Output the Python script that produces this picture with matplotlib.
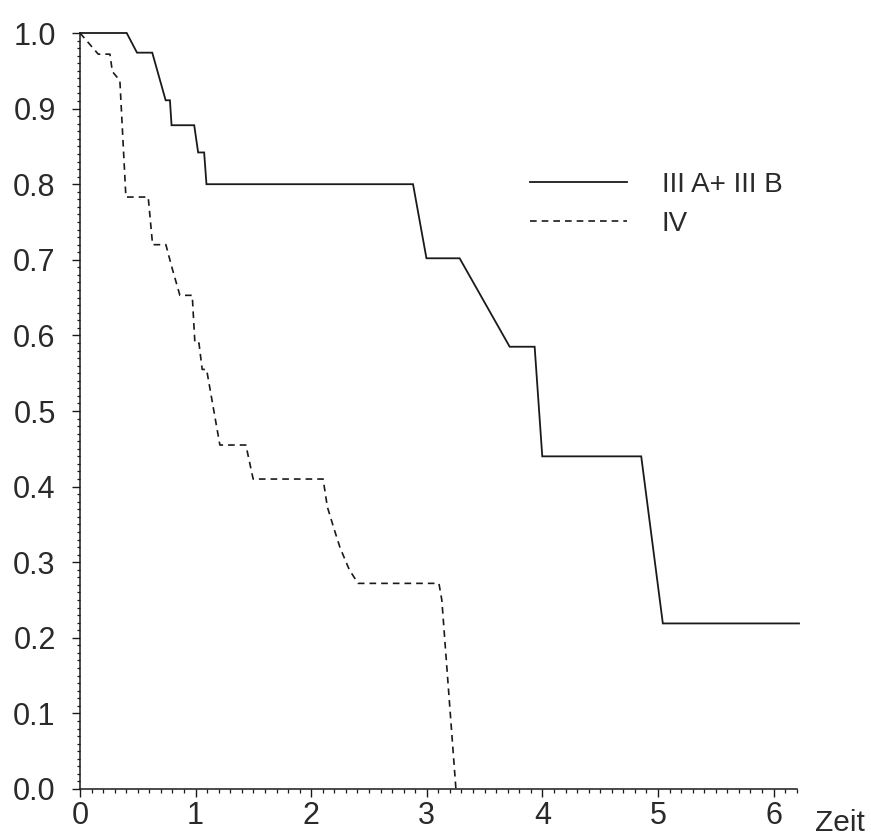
import matplotlib
matplotlib.use("Agg")
import matplotlib.pyplot as plt
from matplotlib.ticker import MultipleLocator, FixedLocator

plt.rcParams['font.family'] = ['Liberation Sans', 'DejaVu Sans']

# Kaplan-Meier style curves (time, survival)
t_3ab = [0.0, 0.404, 0.493, 0.625, 0.741, 0.778, 0.792, 0.988, 1.022, 1.074, 1.094,
         2.881, 2.997, 3.284, 3.717, 3.933, 3.999, 4.855, 5.042, 6.22]
s_3ab = [1.0, 1.0, 0.974, 0.974, 0.911, 0.911, 0.878, 0.878, 0.842, 0.842, 0.800,
         0.800, 0.702, 0.702, 0.585, 0.585, 0.440, 0.440, 0.219, 0.219]

t_4 = [0.0, 0.158, 0.259, 0.28, 0.345, 0.397, 0.590, 0.628, 0.743, 0.793, 0.864,
       0.971, 0.994, 1.029, 1.057, 1.095, 1.210, 1.435, 1.498, 2.103, 2.14, 2.20,
       2.25, 2.33, 2.405, 3.105, 3.13, 3.252]
s_4 = [1.0, 0.972, 0.972, 0.949, 0.937, 0.783, 0.783, 0.720, 0.720, 0.691, 0.653,
       0.653, 0.590, 0.590, 0.555, 0.555, 0.455, 0.455, 0.410, 0.410, 0.373, 0.343,
       0.319, 0.290, 0.272, 0.272, 0.25, 0.0]

labels = ["III A+ III B", "IV"]
x_ticks = [0, 1, 2, 3, 4, 5, 6]
x_ticklabels = ["0", "1", "2", "3", "4", "5", "6"]
y_ticks = [0.0, 0.1, 0.2, 0.3, 0.4, 0.5, 0.6, 0.7, 0.8, 0.9, 1.0]
y_ticklabels = ["0.0", "0.1", "0.2", "0.3", "0.4", "0.5", "0.6", "0.7", "0.8", "0.9", "1.0"]
x_label = "Zeit"

W, H = 871, 839
fig = plt.figure(figsize=(W / 100, H / 100), dpi=100)
ax = fig.add_axes([80 / W, 50 / H, (796.7 - 80) / W, 756 / H])

ink = "#1a1a1a"
txt = "#2a2a2a"
ax.plot(t_3ab, s_3ab, color=ink, lw=1.3, solid_joinstyle="miter", clip_on=False, label=labels[0])
ax.plot(t_4, s_4, color=ink, lw=1.2, dashes=(4.0, 3.0), clip_on=False, label=labels[1])

ax.set_xlim(0, 6.2)
ax.set_ylim(0, 1.0)
for sp in ("top", "right"):
    ax.spines[sp].set_visible(False)
for sp in ("left", "bottom"):
    ax.spines[sp].set_linewidth(1.1)
    ax.spines[sp].set_color(ink)

ax.xaxis.set_major_locator(FixedLocator(x_ticks))
ax.set_xticklabels(x_ticklabels)
ax.yaxis.set_major_locator(FixedLocator(y_ticks))
ax.set_yticklabels(y_ticklabels)
ax.xaxis.set_minor_locator(MultipleLocator(0.1))
ax.yaxis.set_minor_locator(MultipleLocator(0.01))

ax.tick_params(axis="x", which="major", length=6, width=1.0, pad=2.5, labelsize=22,
               color=ink, labelcolor=txt)
ax.tick_params(axis="x", which="minor", length=3.2, width=0.9, color=ink)
ax.tick_params(axis="y", which="major", length=6, width=1.0, pad=11.5, labelsize=22,
               color=ink, labelcolor=txt)
ax.tick_params(axis="y", which="minor", length=2.2, width=0.9, color=ink)

fig.text(815 / W, 1 - 831 / H, x_label, fontsize=21.5, color=txt,
         ha="left", va="baseline")

leg = ax.legend(loc="upper left", bbox_to_anchor=(524 / W, 1 - 166 / H),
                bbox_transform=fig.transFigure, frameon=False, fontsize=20,
                handlelength=3.5, handletextpad=1.25, labelspacing=0.49,
                borderpad=0.2, borderaxespad=0)
for t in leg.get_texts():
    t.set_color(txt)

fig.savefig("out.png", dpi=100)
